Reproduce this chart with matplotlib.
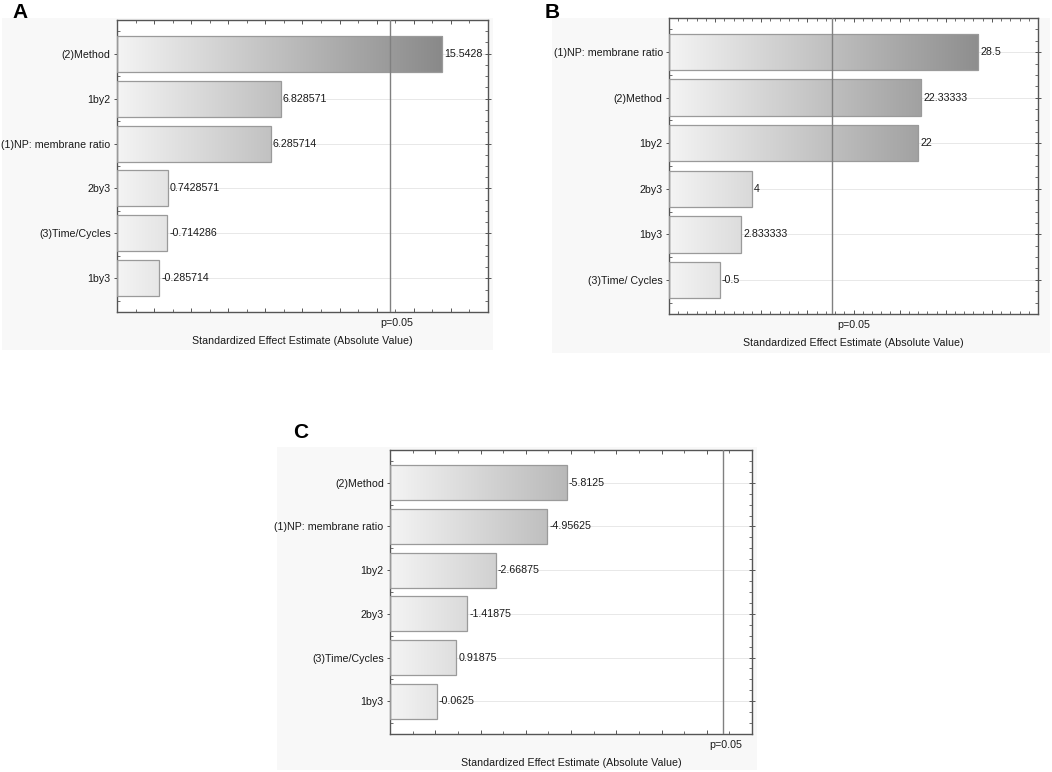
import numpy as np
import matplotlib
matplotlib.use("Agg")
import matplotlib.pyplot as plt
from matplotlib.patches import Rectangle
from matplotlib.colors import LinearSegmentedColormap
from matplotlib.ticker import MultipleLocator, NullFormatter

plt.rcParams["font.family"] = ["Liberation Sans", "DejaVu Sans"]

W, H = 1052, 772
FS = 7.7

# panel A
labels_a = ["(2)Method", "1by2", "(1)NP: membrane ratio", "2by3", "(3)Time/Cycles", "1by3"]
values_a = [15.5428, 6.828571, 6.285714, 0.7428571, -0.714286, -0.285714]
# panel B
labels_b = ["(1)NP: membrane ratio", "(2)Method", "1by2", "2by3", "1by3", "(3)Time/ Cycles"]
values_b = [28.5, 22.33333, 22, 4, 2.833333, -0.5]
# panel C
labels_c = ["(2)Method", "(1)NP: membrane ratio", "1by2", "2by3", "(3)Time/Cycles", "1by3"]
values_c = [-5.8125, -4.95625, -2.66875, -1.41875, 0.91875, -0.0625]

p_crit = 12.7
xlims = [(-2, 18), (-5, 35), (-2, 14)]
major_steps = [2, 5, 2]

# axes boxes in pixels: left, right, top, bottom
boxes = [(117, 488, 20, 312), (669, 1038, 18, 314), (390, 752, 450, 734)]
# light panel backgrounds in pixels: left, right, top, bottom
panels = [(2, 493, 18, 350), (552, 1050, 18, 353), (277, 757, 447, 770)]
letters = [("A", 12, 18), ("B", 545, 18), ("C", 293, 438)]
p_offsets = [7, 21, 3]  # px shift of the p=0.05 label

cmap = LinearSegmentedColormap.from_list("g", ["#f4f4f4", "#7a7a7a"])

fig = plt.figure(figsize=(W / 100, H / 100), dpi=100)
fig.patch.set_facecolor("white")

for (l, r, t, b) in panels:
    fig.patches.append(Rectangle((l / W, 1 - b / H), (r - l) / W, (b - t) / H,
                                 transform=fig.transFigure, facecolor="#f8f8f8",
                                 edgecolor="none", zorder=-10))

for txt, x, y in letters:
    fig.text(x / W, 1 - y / H, txt, fontsize=15, fontweight="bold", ha="left", va="baseline")

datasets = [(labels_a, values_a), (labels_b, values_b), (labels_c, values_c)]
for i, (labels, values) in enumerate(datasets):
    l, r, t, b = boxes[i]
    ax = fig.add_axes([l / W, 1 - b / H, (r - l) / W, (b - t) / H])
    ax.set_facecolor("white")
    x0, x1 = xlims[i]
    n = len(labels)
    ypos = np.arange(n)
    mags = np.abs(values)

    ax.hlines(ypos, x0, x1, colors="#e4e4e4", linewidth=0.6, zorder=0)
    bars = ax.barh(ypos, mags - x0, left=x0, height=0.8, facecolor="none",
                   edgecolor="#9a9a9a", linewidth=0.9, zorder=3)
    grad = np.linspace(0, 1, 256).reshape(1, -1)
    for bar in bars:
        im = ax.imshow(grad, extent=(x0, x1, n - 0.25, -0.75), aspect="auto",
                       cmap=cmap, zorder=2, interpolation="bilinear")
        im.set_clip_path(bar)

    for y, v, m in zip(ypos, values, mags):
        ax.text(m + (x1 - x0) * 0.006, y, str(v), va="center", ha="left",
                fontsize=FS, color="#1a1a1a", zorder=4)

    ax.axvline(p_crit, color="#808080", linewidth=1.0, zorder=4)

    ax.set_xlim(x0, x1)
    ax.set_ylim(n - 0.25, -0.75)
    ax.set_yticks(ypos)
    ax.set_yticklabels(labels, fontsize=FS, color="#1a1a1a")
    ax.yaxis.set_minor_locator(MultipleLocator(0.25))
    ax.xaxis.set_major_locator(MultipleLocator(major_steps[i]))
    ax.xaxis.set_minor_locator(MultipleLocator(1))
    ax.xaxis.set_major_formatter(NullFormatter())
    ax.tick_params(axis="x", which="major", direction="in", length=3, top=True,
                   width=0.7, color="#555555")
    ax.tick_params(axis="x", which="minor", direction="in", length=2, top=True,
                   width=0.6, color="#555555")
    ax.tick_params(axis="y", which="major", direction="inout", length=5, right=True,
                   width=0.7, color="#555555", pad=2)
    ax.tick_params(axis="y", which="minor", direction="in", length=2, right=True,
                   width=0.6, color="#555555")
    for s in ax.spines.values():
        s.set_color("#555555")
        s.set_linewidth(1.0)

    px = p_crit + p_offsets[i] * (x1 - x0) / (r - l)
    ax.text(px, -6 / (b - t), "p=0.05", transform=ax.get_xaxis_transform(),
            ha="center", va="top", fontsize=FS, color="#1a1a1a")
    ax.set_xlabel("Standardized Effect Estimate (Absolute Value)", fontsize=FS,
                  color="#1a1a1a", labelpad=14)

fig.savefig("out.png", dpi=100)
plt.close(fig)
